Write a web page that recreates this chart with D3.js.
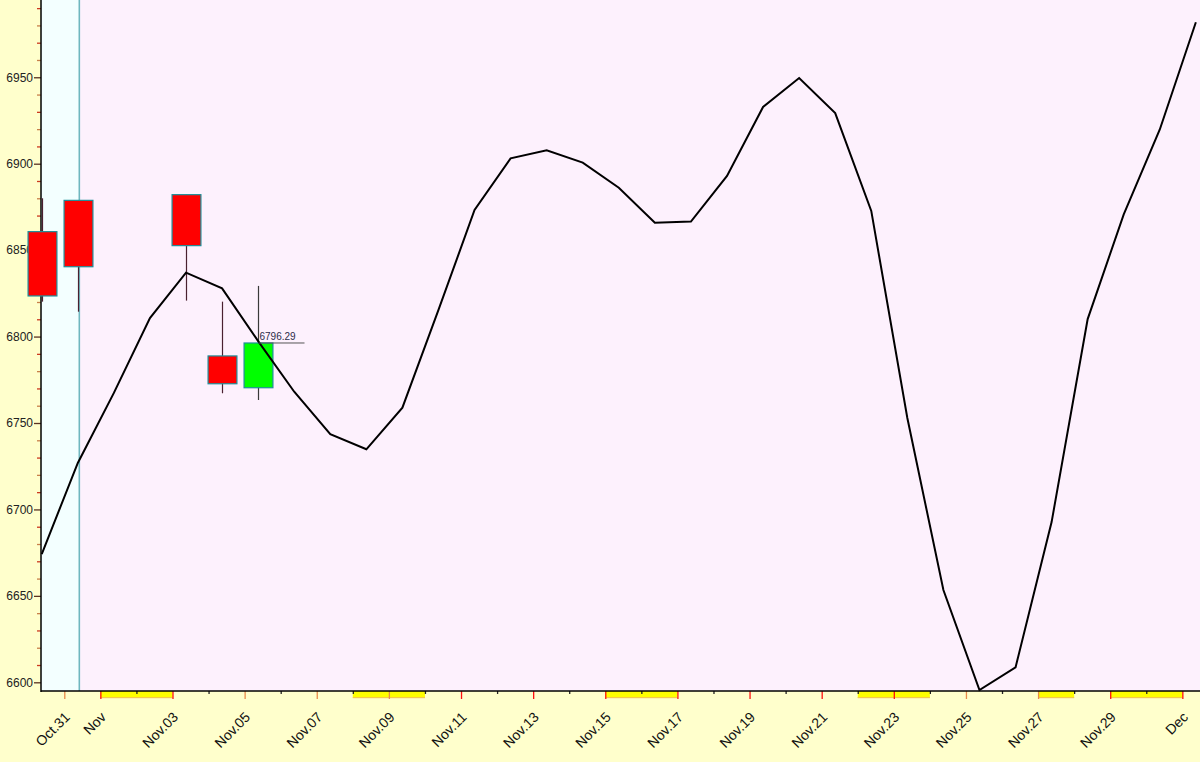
<!DOCTYPE html>
<html>
<head>
<meta charset="utf-8">
<script src="https://cdn.jsdelivr.net/npm/d3@7/dist/d3.min.js"></script>
<style>
  html, body { margin: 0; padding: 0; background: #ffffcc; }
  svg { display: block; }
  text { font-family: Arial, "Liberation Sans", sans-serif; }
</style>
</head>
<body>
<svg id="chart" width="1200" height="762"></svg>
<script>
// ---------------- DATA ----------------
const lineDates = [
  "2025-10-30","2025-10-31","2025-11-01","2025-11-02","2025-11-03","2025-11-04","2025-11-05",
  "2025-11-06","2025-11-07","2025-11-08","2025-11-09","2025-11-10","2025-11-11","2025-11-12",
  "2025-11-13","2025-11-14","2025-11-15","2025-11-16","2025-11-17","2025-11-18","2025-11-19",
  "2025-11-20","2025-11-21","2025-11-22","2025-11-23","2025-11-24","2025-11-25","2025-11-26",
  "2025-11-27","2025-11-28","2025-11-29","2025-11-30","2025-12-01"
];
const lineValues = [
  6674.2, 6726.9, 6767.4, 6810.7, 6837.0, 6827.9, 6797.4,
  6768.1, 6743.5, 6734.8, 6758.9, 6815.4, 6873.2, 6903.1,
  6907.8, 6900.6, 6886.1, 6865.9, 6866.5, 6892.9, 6932.8,
  6949.6, 6929.3, 6872.7, 6752.9, 6653.4, 6595.5, 6608.6,
  6692.7, 6810.1, 6870.7, 6919.8, 6981.8
];

const candleDates = ["2025-10-30","2025-10-31","2025-11-03","2025-11-04","2025-11-05"];
const candleOpen  = [6860.7, 6878.8, 6882.1, 6788.8, 6770.4];
const candleHigh  = [6880.0, 6878.8, 6882.1, 6820.2, 6829.3];
const candleLow   = [6820.2, 6814.4, 6820.8, 6767.2, 6763.3];
const candleClose = [6823.5, 6840.4, 6852.6, 6772.7, 6796.29];
const lastPriceLabel = "6796.29";

const tickDates = [
  "2025-10-31","2025-11-01","2025-11-02","2025-11-03","2025-11-04","2025-11-05","2025-11-06",
  "2025-11-07","2025-11-08","2025-11-09","2025-11-10","2025-11-11","2025-11-12","2025-11-13",
  "2025-11-14","2025-11-15","2025-11-16","2025-11-17","2025-11-18","2025-11-19","2025-11-20",
  "2025-11-21","2025-11-22","2025-11-23","2025-11-24","2025-11-25","2025-11-26","2025-11-27",
  "2025-11-28","2025-11-29","2025-11-30","2025-12-01"
];
const tickLabels = [
  "Oct.31","Nov","","Nov.03","","Nov.05","",
  "Nov.07","","Nov.09","","Nov.11","","Nov.13",
  "","Nov.15","","Nov.17","","Nov.19","",
  "Nov.21","","Nov.23","","Nov.25","","Nov.27",
  "","Nov.29","","Dec"
];
const orangeTickLabels = ["Oct.31","Nov.05","Nov.07","Nov.09","Nov.25","Nov.27"];

// non-trading periods (start, end)
const closedStart = ["2025-11-01","2025-11-08","2025-11-15","2025-11-22","2025-11-27","2025-11-29"];
const closedEnd   = ["2025-11-03","2025-11-10","2025-11-17","2025-11-24","2025-11-28","2025-12-01"];

const currentMarker = "2025-10-31T10:00:00Z";
const xDomain = ["2025-10-30T08:30:00Z", "2025-12-01T11:45:00Z"];
const yDomain = [6594.97, 6994.7];
const yTickValues = d3.range(6600, 6991, 10);

// ---------------- LAYOUT ----------------
const W = 1200, H = 762;
const L = 41, R = 1200, T = 0, B = 691;
const dayAt = (s, h) => new Date(s + "T" + String(h).padStart(2, "0") + ":00:00Z");

const x = d3.scaleUtc().domain(xDomain.map(d => new Date(d))).range([L, R]);
const y = d3.scaleLinear().domain(yDomain).range([B, T]);

const svg = d3.select("#chart");

svg.append("rect").attr("x", 0).attr("y", 0).attr("width", W).attr("height", H).attr("fill", "#ffffcc");
svg.append("rect").attr("x", L).attr("y", T).attr("width", R - L).attr("height", B - T).attr("fill", "#fdf1fd");

const markX = x(new Date(currentMarker));
svg.append("rect").attr("x", L).attr("y", T).attr("width", markX - L).attr("height", B - T).attr("fill", "#f3ffff");
svg.append("line").attr("x1", markX).attr("x2", markX).attr("y1", T).attr("y2", B)
  .attr("stroke", "#6fb7bf").attr("stroke-width", 1.6);

// yellow non-trading bands below the axis
const bands = svg.append("g");
closedStart.forEach((s, i) => {
  const x0 = x(dayAt(s, 0)), x1 = x(dayAt(closedEnd[i], 0));
  bands.append("rect").attr("x", x0).attr("y", B).attr("width", x1 - x0).attr("height", 7).attr("fill", "#ffff00");
  bands.append("rect").attr("x", x0).attr("y", B + 6).attr("width", x1 - x0).attr("height", 1.2).attr("fill", "#f5c94a");
});

// ---------------- AXES ----------------
const yAxis = d3.axisLeft(y).tickValues(yTickValues).tickSizeInner(7).tickSizeOuter(0).tickPadding(1)
  .tickFormat(d => d % 50 === 0 ? d : "");
const gy = svg.append("g").attr("transform", `translate(${L},0)`).call(yAxis);
gy.select(".domain").remove();
gy.selectAll(".tick line")
  .attr("x2", d => d % 50 === 0 ? -7 : -4)
  .attr("stroke", (d, i) => d % 50 === 0 ? "#5a3322" : (i % 2 ? "#cc3a20" : "#c8804a"))
  .attr("stroke-width", 1.3);
gy.selectAll(".tick text").attr("font-size", 12).attr("fill", "#222");

const xAxis = d3.axisBottom(x).tickValues(tickDates.map(s => dayAt(s, 0))).tickSizeOuter(0)
  .tickFormat((d, i) => tickLabels[i]);
const gx = svg.append("g").attr("transform", `translate(0,${B})`).call(xAxis);
gx.select(".domain").remove();
gx.selectAll(".tick line")
  .attr("y2", (d, i) => tickLabels[i] ? 8 : 3)
  .attr("stroke", (d, i) => tickLabels[i] ? (orangeTickLabels.includes(tickLabels[i]) ? "#e88a4a" : "#ff1010") : "#222")
  .attr("stroke-width", 1.3);
gx.selectAll(".tick text")
  .attr("font-size", 14).attr("fill", "#111")
  .attr("text-anchor", "end")
  .attr("x", 0).attr("y", 0).attr("dy", 0)
  .attr("transform", "translate(6,27) rotate(-45)");

// axis lines
svg.append("line").attr("x1", L).attr("x2", L).attr("y1", T).attr("y2", B + 1).attr("stroke", "#000").attr("stroke-width", 1.5);
svg.append("line").attr("x1", L).attr("x2", R).attr("y1", B).attr("y2", B).attr("stroke", "#000").attr("stroke-width", 1.5);

// ---------------- CANDLES ----------------
const candles = candleDates.map((s, i) => ({
  t: dayAt(s, 9), o: candleOpen[i], h: candleHigh[i], l: candleLow[i], c: candleClose[i]
}));
const halfW = (x(dayAt("2025-11-03", 9)) - x(dayAt("2025-11-02", 9))) * 0.4;
const cg = svg.append("g");
candles.forEach(d => {
  const cx = Math.round(x(d.t)) + 0.5;
  const up = d.c >= d.o;
  cg.append("line").attr("x1", cx).attr("x2", cx).attr("y1", y(d.h)).attr("y2", y(d.l))
    .attr("stroke", up ? "#3a3a3a" : "#4a2030").attr("stroke-width", 1.2);
  cg.append("rect")
    .attr("x", cx - halfW).attr("width", halfW * 2)
    .attr("y", y(Math.max(d.o, d.c))).attr("height", Math.abs(y(d.o) - y(d.c)))
    .attr("fill", up ? "#00ff00" : "#ff0000")
    .attr("stroke", "#1d8f99").attr("stroke-width", 1.2);
});

// ---------------- LINE ----------------
const pts = lineDates.map((s, i) => [dayAt(s, 9), lineValues[i]]);
svg.append("path")
  .datum(pts)
  .attr("d", d3.line().x(d => x(d[0])).y(d => y(d[1])))
  .attr("fill", "none").attr("stroke", "#000").attr("stroke-width", 2).attr("stroke-linejoin", "miter");

// last price label
const last = candles[candles.length - 1];
const lx = Math.round(x(last.t)) + 0.5;
svg.append("line").attr("x1", lx).attr("x2", lx + 46).attr("y1", y(last.c)).attr("y2", y(last.c))
  .attr("stroke", "#555").attr("stroke-width", 1);
svg.append("text").attr("x", lx + 1).attr("y", y(last.c) - 2.5)
  .attr("font-size", 10).attr("fill", "#2c2c4a").text(lastPriceLabel);
</script>
</body>
</html>
